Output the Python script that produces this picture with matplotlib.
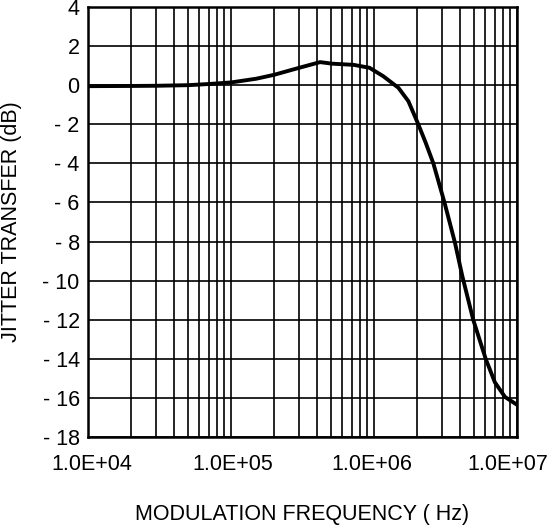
import matplotlib
matplotlib.use("Agg")
import matplotlib.pyplot as plt
import matplotlib.transforms as mtransforms
import numpy as np
from matplotlib.ticker import FixedLocator, LogLocator, NullFormatter

plt.rcParams["font.family"] = ["Liberation Sans", "DejaVu Sans"]

# Curva
freq_hz = [1e4, 2e4, 3e4, 5e4, 7e4, 1e5, 1.5e5, 2e5, 3e5, 4.2e5, 5.1e5, 7.2e5,
           9.3e5, 1.16e6, 1.48e6, 1.74e6, 2.04e6, 2.3e6, 2.6e6, 3.11e6, 3.68e6,
           4.14e6, 4.94e6, 6.04e6, 7.0e6, 8.24e6, 1.0e7]
jitter_db = [-0.05, -0.04, -0.03, 0.0, 0.06, 0.14, 0.33, 0.53, 0.89, 1.18, 1.1,
             1.04, 0.89, 0.46, -0.13, -0.82, -2.0, -2.95, -4.0, -6.0, -8.05,
             -9.75, -12.0, -14.0, -15.2, -15.95, -16.35]

y_ticks = list(range(-18, 5, 2))
y_tick_labels = [f"- {abs(v)}" if v < 0 else str(v) for v in y_ticks]
x_ticks = [1e4, 1e5, 1e6, 1e7]
x_tick_labels = ["1.0E+04", "1.0E+05", "1.0E+06", "1.0E+07"]

fig = plt.figure(figsize=(5.49, 5.25), dpi=100)
ax = fig.add_axes([88 / 549, 1 - 437 / 525, 429 / 549, 430 / 525])

ax.plot(freq_hz, jitter_db, color="black", lw=2.8, solid_joinstyle="round",
        solid_capstyle="butt", zorder=3)

ax.set_xscale("log")
ax.set_xlim(1e4, 1e7)
ax.set_ylim(-18, 4)

ax.xaxis.set_major_locator(FixedLocator(x_ticks))
ax.set_xticklabels(x_tick_labels)
ax.xaxis.set_minor_locator(LogLocator(base=10, subs=np.arange(2, 10)))
ax.xaxis.set_minor_formatter(NullFormatter())
ax.set_yticks(y_ticks)
ax.set_yticklabels(y_tick_labels)

ax.grid(True, which="both", color="black", lw=1.2)
ax.tick_params(which="both", length=0, labelsize=15.5)
ax.tick_params(axis="x", pad=12)
ax.tick_params(axis="y", pad=6)
for s in ax.spines.values():
    s.set_linewidth(1.8)

# rótulos das pontas deslocados como no original
shifts = [4, 2, -2, -9]
for lbl, dx in zip(ax.get_xticklabels(), shifts):
    lbl.set_transform(lbl.get_transform()
                      + mtransforms.ScaledTranslation(dx / 100, 0, fig.dpi_scale_trans))

ax.set_ylabel("JITTER TRANSFER (dB)", fontsize=15.5, labelpad=15)
ax.set_xlabel("MODULATION FREQUENCY ( Hz)", fontsize=15.5, labelpad=21)

fig.savefig("out.png", dpi=100)
